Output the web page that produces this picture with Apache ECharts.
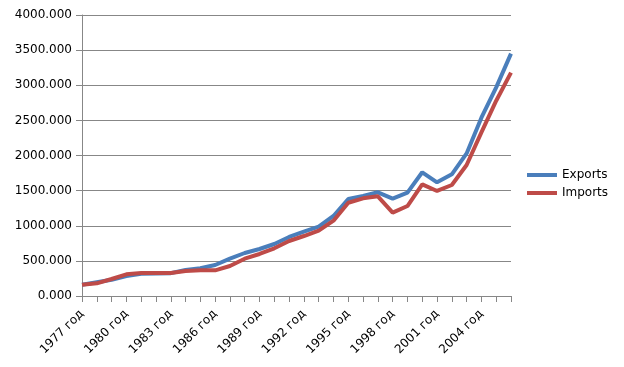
<!DOCTYPE html>
<html>
<head>
<meta charset="utf-8">
<script src="https://cdn.jsdelivr.net/npm/echarts@6/dist/echarts.min.js"></script>
<style>
html,body{margin:0;padding:0;background:#fff;}
#chart{width:624px;height:367px;}
</style>
</head>
<body>
<div id="chart"></div>
<script>
var years = ['1977 год','1978 год','1979 год','1980 год','1981 год','1982 год','1983 год','1984 год','1985 год','1986 год',
  '1987 год','1988 год','1989 год','1990 год','1991 год','1992 год','1993 год','1994 год','1995 год','1996 год',
  '1997 год','1998 год','1999 год','2000 год','2001 год','2002 год','2003 год','2004 год','2005 год','2006 год'];
var exportsData = [160,195,230,285,318,322,325,370,394,441,
  531,612,669,740,840,915,987,1139,1381,1423,
  1476,1385,1471,1761,1618,1732,2030,2538,2970,3450];
var importsData = [160,180,242,309,327,327,327,356,365,365,
  427,531,598,679,783,854,930,1072,1328,1390,
  1419,1186,1281,1590,1495,1580,1865,2330,2780,3179];
var yMin = 0, yMax = 4000, yStep = 500;

var chart = echarts.init(document.getElementById('chart'), null, {renderer:'canvas'});
var font = 'DejaVu Sans';
chart.setOption({
  animation: false,
  backgroundColor: '#ffffff',
  grid: {left: 82, right: 113, top: 15, bottom: 71},
  legend: {
    orient: 'vertical',
    left: 522,
    top: 164,
    padding: 5,
    itemWidth: 30,
    itemHeight: 4,
    itemGap: 6,
    icon: 'rect',
    textStyle: {fontFamily: font, fontSize: 12, color: '#000'},
    data: ['Exports','Imports']
  },
  xAxis: {
    type: 'category',
    data: years,
    boundaryGap: false,
    axisLine: {lineStyle: {color: '#878787', width: 1}},
    axisTick: {show: true, length: 6, interval: 0, lineStyle: {color: '#878787'}},
    axisLabel: {rotate: 45, interval: 2, margin: 16, fontFamily: font, fontSize: 12, color: '#000'},
    splitLine: {show: false}
  },
  yAxis: {
    type: 'value',
    min: yMin, max: yMax, interval: yStep,
    axisLine: {show: true, lineStyle: {color: '#878787', width: 1}},
    axisTick: {show: true, length: 6, lineStyle: {color: '#878787'}},
    axisLabel: {margin: 10, fontFamily: font, fontSize: 12, color: '#000',
      formatter: function(v){ return v.toFixed(3); }},
    splitLine: {show: true, lineStyle: {color: '#878787', width: 1}}
  },
  series: [
    {name:'Exports', type:'line', data: exportsData, showSymbol:false, symbol:'none',
     lineStyle:{color:'#4a7ebb', width:4}, itemStyle:{color:'#4a7ebb'}},
    {name:'Imports', type:'line', data: importsData, showSymbol:false, symbol:'none',
     lineStyle:{color:'#be4b48', width:4}, itemStyle:{color:'#be4b48'}}
  ]
});
</script>
</body>
</html>
